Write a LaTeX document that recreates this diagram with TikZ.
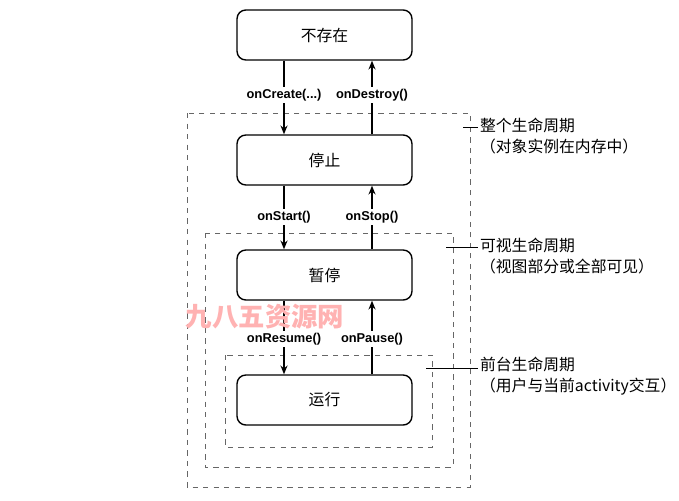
\documentclass[tikz,border=0pt]{standalone}
\usepackage{fontspec}
\setmainfont{Liberation Sans}
\newfontfamily\cjk{Noto Sans CJK SC}
\usetikzlibrary{arrows.meta,positioning}

\tikzset{
  state/.style={draw, thick, rounded corners=5pt, minimum width=3.5cm, minimum height=1cm, font=\cjk\fontsize{9}{10}\selectfont},
  call/.style={font=\bfseries\fontsize{7.3}{8}\selectfont, inner sep=1pt},
  life/.style={draw=gray!80!black, dashed, thin},
  note/.style={anchor=west, align=left, font=\cjk\fontsize{9}{12}\selectfont, inner sep=1pt},
  flow/.style={thick, -{Stealth[length=5pt,width=4pt]}}
}

\begin{document}
\begin{tikzpicture}[x=0.02cm, y=-0.02cm]
  \useasboundingbox (0,0) rectangle (679,500);

  % life cycles
  \draw[life] (187,113) rectangle (470,487);
  \draw[life] (205,233) rectangle (453,467);
  \draw[life] (225,355) rectangle (432,447);

  % states
  \node[state] (none) at (324.5,35) {不存在};
  \node[state] (stopped) at (324.5,160) {停止};
  \node[state] (paused) at (324.5,275) {暂停};
  \node[state] (running) at (324.5,400) {运行};

  % calls
  \node[call] (create) at (284,95) {onCreate(...)};
  \node[call] (destroy) at (372,95) {onDestroy()};
  \node[call] (start) at (284,217) {onStart()};
  \node[call] (stop) at (372,217) {onStop()};
  \node[call] (resume) at (284,339) {onResume()};
  \node[call] (pause) at (372,339) {onPause()};

  \foreach \up/\call/\down in {none/create/stopped, stopped/start/paused, paused/resume/running}{
    \draw[thick] (\up.south -| \call) -- (\call.north);
    \draw[flow] (\call.south) -- (\down.north -| \call);
  }
  \foreach \up/\call/\down in {none/destroy/stopped, stopped/stop/paused, paused/pause/running}{
    \draw[flow] (\call.north) -- (\up.south -| \call);
    \draw[thick] (\down.north -| \call) -- (\call.south);
  }

  % notes
  \node[note] (whole) at (478,136) {整个生命周期\\（对象实例在内存中）};
  \node[note] (visible) at (478,256) {可视生命周期\\（视图部分或全部可见）};
  \node[note] (front) at (478,376) {前台生命周期\\（用户与当前activity交互）};
  \coordinate (w0) at (463,127);
  \coordinate (v0) at (446,247);
  \coordinate (f0) at (426,368);
  \draw[thin] (w0) -- (w0 -| whole.west);
  \draw[thin] (v0) -- (v0 -| visible.west);
  \draw[thin] (f0) -- (f0 -| front.west);

  % watermark
  \node[font=\cjk\bfseries\fontsize{15}{16}\selectfont, text=red!30, inner sep=0pt] (mark) at (265,317) {九八五资源网};
\end{tikzpicture}
\end{document}
